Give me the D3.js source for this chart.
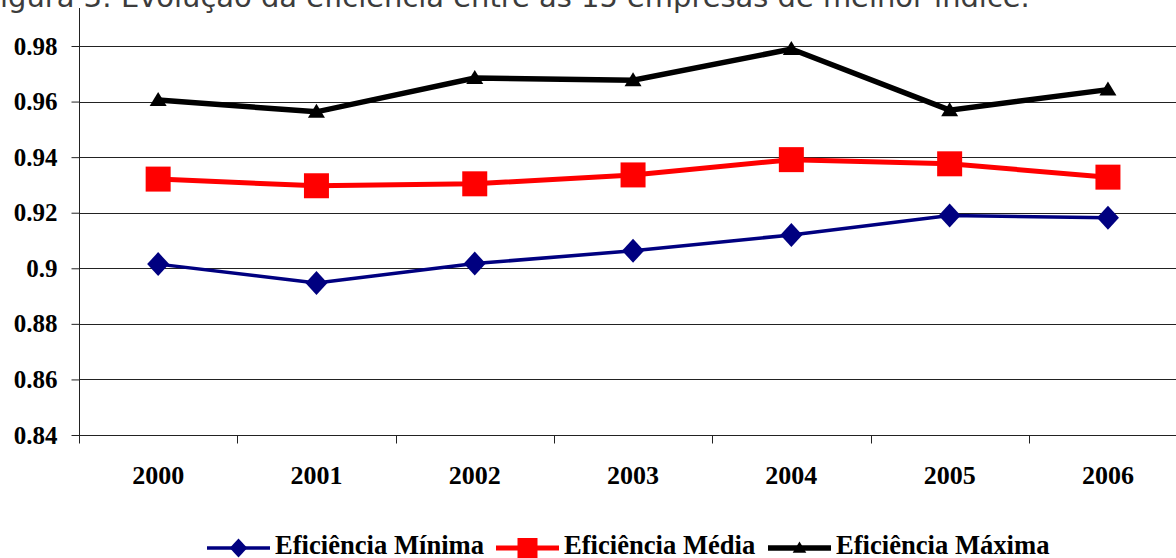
<!DOCTYPE html>
<html>
<head>
<meta charset="utf-8">
<script src="https://cdn.jsdelivr.net/npm/d3@7"></script>
<style>
  body { margin: 0; background: #fff; overflow: hidden; }
  svg { display: block; }
</style>
</head>
<body>
<svg id="chart" width="1176" height="558"></svg>
<script>
// datos
var years = ['2000', '2001', '2002', '2003', '2004', '2005', '2006'];
var efMinima = [0.9015, 0.8947, 0.9017, 0.9063, 0.9120, 0.9190, 0.9182];
var efMedia  = [0.9321, 0.9297, 0.9304, 0.9336, 0.9391, 0.9376, 0.9328];
var efMaxima = [0.9606, 0.9563, 0.9685, 0.9677, 0.9789, 0.9569, 0.9643];
var yTicks = [0.84, 0.86, 0.88, 0.90, 0.92, 0.94, 0.96, 0.98];
var seriesNames = ['Eficiência Mínima', 'Eficiência Média', 'Eficiência Máxima'];
var titulo = 'Figura 3: Evolução da eficiência entre as 15 empresas de melhor índice.';

var W = 1176, H = 558;
var left = 79, bandW = 158.3, bottom = 435;

var svg = d3.select('#chart');

var x = d3.scaleBand().domain(years).range([left, left + bandW * years.length]);
var y = d3.scaleLinear().domain([0.84, 0.98]).range([bottom, 46]);

// titulo (cortado arriba)
var t = svg.append('text')
    .attr('y', 6.5)
    .attr('fill', '#3c3c3c')
    .style('font-family', 'DejaVu Sans, Verdana, sans-serif')
    .style('font-size', '22px')
    .text(titulo);
var fw = t.node().getSubStringLength(0, 1);
var full = t.node().getComputedTextLength();
var fs = 22 * 1030 / (full - fw);
t.style('font-size', fs + 'px');
fw = t.node().getSubStringLength(0, 1);
t.attr('x', -fw);

// lineas de la rejilla
svg.append('g').selectAll('line').data(yTicks.slice(1)).enter().append('line')
    .attr('x1', left).attr('x2', W)
    .attr('y1', function(d){ return Math.round(y(d)) + 0.5; })
    .attr('y2', function(d){ return Math.round(y(d)) + 0.5; })
    .attr('stroke', '#222').attr('stroke-width', 1);

// eje Y
var yAxis = d3.axisLeft(y).tickValues(yTicks).tickSize(8).tickFormat(d3.format('~g'));
var gy = svg.append('g').attr('transform', 'translate(' + (left + 0.5) + ',0)').call(yAxis);
gy.select('.domain').remove();
gy.append('line').attr('x1', 0).attr('x2', 0).attr('y1', 8).attr('y2', bottom + 8).attr('stroke', '#222');
gy.selectAll('.tick line').attr('stroke', '#222');
gy.selectAll('.tick text')
    .attr('x', -22)
    .style('font-family', 'Liberation Serif, Times New Roman, serif')
    .style('font-weight', 'bold')
    .style('font-size', '25px')
    .attr('fill', '#000');

// eje X
var gx = svg.append('g').attr('transform', 'translate(0,' + (bottom + 0.5) + ')');
gx.append('line').attr('x1', left).attr('x2', W).attr('stroke', '#222');
gx.selectAll('.tk').data(years).enter().append('line').attr('class', 'tk')
    .attr('x1', function(d){ return Math.round(x(d)) + 0.5; })
    .attr('x2', function(d){ return Math.round(x(d)) + 0.5; })
    .attr('y1', 0).attr('y2', 8).attr('stroke', '#222');
gx.selectAll('.lbl').data(years).enter().append('text').attr('class', 'lbl')
    .attr('x', function(d){ return x(d) + x.bandwidth() / 2; })
    .attr('y', 48)
    .attr('text-anchor', 'middle')
    .style('font-family', 'Liberation Serif, Times New Roman, serif')
    .style('font-weight', 'bold')
    .style('font-size', '26px')
    .text(function(d){ return d; });

var cx = function(d, i){ return x(years[i]) + x.bandwidth() / 2; };

var series = [
    { name: seriesNames[0], values: efMinima, color: '#000080', width: 3.5, marker: 'diamond' },
    { name: seriesNames[1], values: efMedia,  color: '#FF0000', width: 5,   marker: 'square' },
    { name: seriesNames[2], values: efMaxima, color: '#000000', width: 5.5, marker: 'triangle' }
];

function markerPath(type) {
    if (type === 'diamond') return 'M0,-12L11,0L0,12L-11,0Z';
    if (type === 'square') return 'M-12.5,-12.5H12.5V12.5H-12.5Z';
    return 'M0,-8L8.5,6H-8.5Z';
}

series.forEach(function(s) {
    var line = d3.line().x(cx).y(function(d){ return y(d); });
    svg.append('path').datum(s.values)
        .attr('d', line)
        .attr('fill', 'none')
        .attr('stroke', s.color)
        .attr('stroke-width', s.width)
        .attr('stroke-linejoin', 'miter');
    svg.append('g').selectAll('path').data(s.values).enter().append('path')
        .attr('transform', function(d, i){ return 'translate(' + cx(d, i) + ',' + y(d) + ')'; })
        .attr('d', markerPath(s.marker))
        .attr('fill', s.color);
});

// leyenda
var legX = [207, 496, 768];
var leg = svg.append('g');
series.forEach(function(s, i) {
    var g = leg.append('g').attr('transform', 'translate(' + legX[i] + ',548)');
    g.append('line').attr('x1', 0).attr('x2', 63).attr('stroke', s.color).attr('stroke-width', s.width);
    g.append('path').attr('transform', 'translate(31.5,0) scale(0.8)').attr('d', markerPath(s.marker)).attr('fill', s.color);
    g.append('text').attr('x', 68).attr('y', 6)
        .style('font-family', 'Liberation Serif, Times New Roman, serif')
        .style('font-weight', 'bold')
        .style('font-size', '26.6px')
        .text(s.name);
});
</script>
</body>
</html>
